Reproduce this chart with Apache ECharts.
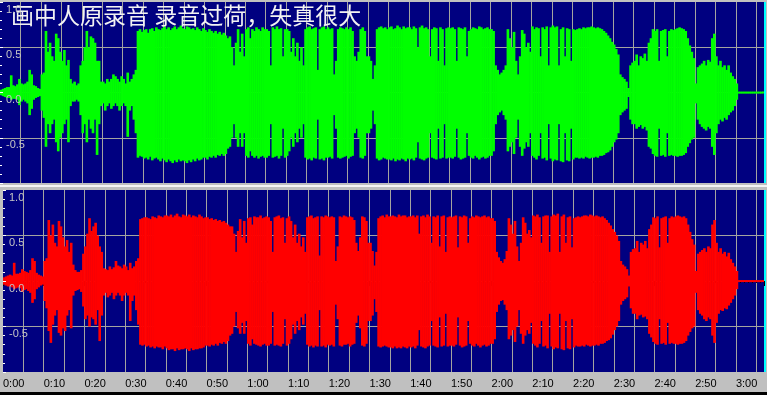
<!DOCTYPE html>
<html><head><meta charset="utf-8">
<script src="https://cdn.jsdelivr.net/npm/echarts@6/dist/echarts.min.js"></script>
<style>html,body{margin:0;padding:0;background:#c0c0c0;overflow:hidden}#c{width:767px;height:395px}</style>
</head><body><div id="c"></div>
<script>
const titleText = '画中人原录音 录音过荷，失真很大';
const binSeconds = 0.5;
const timeTickValues = [0,10,20,30,40,50,60,70,80,90,100,110,120,130,140,150,160,170,180];
const timeTickLabels = ['0:00','0:10','0:20','0:30','0:40','0:50','1:00','1:10','1:20','1:30','1:40','1:50','2:00','2:10','2:20','2:30','2:40','2:50','3:00'];
const ampTickValues = [1, 0.5, 0, -0.5];
const ampTickLabels = ['1.0','0.5','0.0','-0.5'];

// envelopes, one value per 0.5 s bin, one line per 5 s
const greenTop = [
.03,.04,.05,.06,.06,.19,.08,.07,.09,.15,
.1,.09,.1,.12,.25,.2,.08,.07,.05,.04,
.2,.22,.68,.45,.55,.4,.35,.65,.6,.45,
.35,.47,.3,.36,.15,.1,.12,.08,.1,.3,
.35,.5,.68,.5,.62,.6,.55,.35,.35,.12,
.12,.1,.15,.12,.15,.2,.18,.15,.12,.18,
.15,.1,.22,.12,.15,.2,.25,.68,.7,.67,
.69,.7,.66,.7,.71,.68,.72,.7,.69,.71,
.73,.7,.72,.69,.71,.73,.7,.72,.74,.71,
.7,.73,.72,.7,.71,.69,.72,.7,.68,.71,
.69,.67,.7,.68,.66,.68,.65,.67,.64,.66,
.63,.6,.62,.5,.3,.55,.7,.45,.65,.4,
.7,.72,.6,.7,.68,.72,.7,.68,.72,.7,
.7,.68,.3,.72,.7,.73,.7,.71,.4,.7,
.7,.68,.45,.6,.4,.55,.35,.5,.3,.7,
.72,.73,.7,.71,.72,.25,.7,.72,.73,.7,
.72,.7,.71,.2,.35,.7,.72,.71,.7,.72,
.7,.72,.68,.4,.35,.45,.7,.72,.68,.4,
.4,.35,.15,.3,.7,.72,.73,.71,.72,.7,
.72,.73,.7,.71,.74,.72,.7,.73,.71,.72,
.72,.7,.73,.71,.5,.72,.74,.71,.72,.7,
.4,.7,.72,.71,.35,.72,.7,.3,.71,.72,
.71,.72,.7,.35,.72,.71,.7,.72,.4,.68,
.7,.72,.71,.7,.73,.72,.7,.71,.72,.7,
.7,.68,.3,.25,.2,.22,.25,.3,.7,.6,
.5,.67,.35,.2,.4,.69,.65,.5,.55,.45,
.73,.7,.72,.71,.4,.72,.7,.73,.3,.72,
.74,.72,.73,.3,.7,.72,.4,.71,.7,.35,
.7,.69,.7,.71,.7,.72,.71,.72,.72,.73,
.72,.71,.72,.71,.7,.68,.66,.63,.6,.56,
.53,.48,.42,.2,.17,.15,.12,.05,.3,.33,
.35,.42,.3,.4,.38,.43,.35,.55,.6,.7,
.68,.7,.35,.68,.69,.7,.4,.68,.7,.69,
.7,.71,.72,.71,.7,.68,.6,.52,.45,.38,
.1,.28,.3,.32,.35,.3,.36,.34,.6,.65,
.4,.3,.35,.28,.3,.25,.3,.22,.18,.15,
.1,.01,.01,.01,.01,.01,.01,.01,.01,.01,
.01,.01,.01,.01
];
const greenBottom = [
-.03,-.04,-.05,-.06,-.06,-.08,-.07,-.07,-.08,-.14,
-.1,-.08,-.1,-.12,-.25,-.18,-.08,-.06,-.05,-.04,
-.2,-.28,-.6,-.35,-.45,-.35,-.3,-.55,-.65,-.5,
-.45,-.35,-.3,-.55,-.15,-.1,-.1,-.08,-.1,-.25,
-.45,-.35,-.55,-.3,-.4,-.45,-.3,-.69,-.35,-.15,
-.12,-.2,-.15,-.12,-.18,-.15,-.12,-.15,-.2,-.15,
-.12,-.15,-.49,-.2,-.15,-.3,-.45,-.72,-.7,-.71,
-.73,-.72,-.74,-.71,-.75,-.73,-.72,-.74,-.76,-.73,
-.75,-.77,-.74,-.76,-.78,-.75,-.77,-.74,-.76,-.75,
-.76,-.78,-.75,-.77,-.74,-.76,-.73,-.75,-.74,-.72,
-.72,-.74,-.71,-.72,-.7,-.72,-.69,-.7,-.68,-.7,
-.68,-.62,-.6,-.5,-.35,-.5,-.6,-.45,-.6,-.45,
-.7,-.72,-.65,-.7,-.72,-.7,-.73,-.71,-.7,-.72,
-.72,-.7,-.35,-.72,-.71,-.7,-.73,-.7,-.4,-.72,
-.7,-.65,-.5,-.6,-.45,-.55,-.4,-.5,-.35,-.72,
-.74,-.73,-.75,-.72,-.73,-.3,-.74,-.73,-.75,-.72,
-.72,-.71,-.73,-.25,-.4,-.72,-.73,-.72,-.71,-.7,
-.73,-.71,-.7,-.45,-.4,-.5,-.72,-.73,-.7,-.45,
-.45,-.4,-.2,-.35,-.73,-.75,-.74,-.72,-.73,-.74,
-.74,-.75,-.73,-.76,-.74,-.75,-.73,-.74,-.76,-.73,
-.74,-.73,-.75,-.72,-.55,-.73,-.74,-.75,-.73,-.72,
-.45,-.72,-.73,-.74,-.4,-.73,-.72,-.35,-.73,-.72,
-.72,-.73,-.71,-.4,-.72,-.74,-.73,-.72,-.45,-.7,
-.72,-.73,-.7,-.72,-.74,-.72,-.71,-.73,-.72,-.7,
-.7,-.65,-.35,-.25,-.22,-.2,-.25,-.3,-.65,-.6,
-.55,-.68,-.5,-.3,-.6,-.7,-.62,-.55,-.6,-.45,
-.7,-.72,-.74,-.7,-.45,-.73,-.72,-.75,-.35,-.73,
-.76,-.74,-.75,-.35,-.76,-.77,-.45,-.75,-.76,-.4,
-.74,-.72,-.72,-.73,-.72,-.73,-.71,-.72,-.73,-.72,
-.72,-.71,-.72,-.7,-.7,-.69,-.67,-.66,-.64,-.6,
-.55,-.52,-.45,-.25,-.22,-.2,-.18,-.05,-.3,-.35,
-.35,-.4,-.38,-.36,-.4,-.38,-.42,-.6,-.62,-.68,
-.7,-.71,-.4,-.7,-.69,-.71,-.45,-.7,-.69,-.7,
-.7,-.71,-.7,-.7,-.69,-.67,-.6,-.56,-.52,-.5,
-.12,-.3,-.35,-.38,-.4,-.42,-.38,-.4,-.6,-.69,
-.45,-.35,-.3,-.32,-.28,-.3,-.25,-.22,-.2,-.15,
-.08,-.01,-.01,-.01,-.01,-.01,-.01,-.01,-.01,-.01,
-.01,-.01,-.01,-.01
];
const redTop = [
.04,.05,.06,.07,.06,.2,.08,.08,.09,.13,
.11,.1,.09,.12,.25,.22,.09,.07,.06,.05,
.22,.25,.67,.5,.62,.42,.38,.66,.6,.48,
.38,.45,.32,.42,.18,.12,.1,.1,.12,.3,
.38,.52,.69,.55,.6,.64,.5,.38,.32,.14,
.13,.12,.16,.13,.15,.22,.17,.16,.14,.18,
.16,.12,.2,.14,.16,.22,.25,.68,.69,.7,
.7,.69,.68,.71,.7,.69,.72,.71,.7,.72,
.72,.71,.73,.7,.72,.74,.71,.7,.73,.72,
.71,.73,.7,.72,.71,.7,.73,.71,.69,.7,
.7,.68,.69,.67,.68,.66,.67,.65,.66,.64,
.62,.6,.6,.52,.32,.55,.68,.48,.66,.42,
.69,.7,.62,.71,.7,.7,.72,.69,.7,.71,
.7,.66,.32,.7,.71,.72,.69,.7,.42,.69,
.71,.66,.48,.62,.42,.52,.38,.48,.32,.7,
.71,.72,.69,.7,.71,.28,.71,.7,.72,.71,
.7,.71,.7,.22,.38,.71,.7,.72,.71,.7,
.71,.7,.67,.42,.33,.48,.71,.7,.66,.42,
.42,.33,.17,.32,.69,.71,.72,.7,.73,.71,
.71,.72,.71,.7,.73,.71,.72,.72,.7,.71,
.71,.72,.7,.72,.52,.71,.72,.7,.73,.71,
.42,.71,.7,.72,.38,.71,.72,.32,.7,.71,
.7,.71,.72,.37,.71,.7,.72,.71,.42,.69,
.71,.7,.72,.71,.7,.71,.72,.7,.71,.69,
.69,.66,.32,.26,.22,.2,.24,.33,.69,.62,
.52,.66,.38,.22,.42,.7,.64,.52,.56,.48,
.72,.71,.73,.7,.42,.71,.72,.72,.32,.71,
.73,.72,.74,.32,.71,.73,.42,.7,.71,.37,
.69,.7,.71,.7,.71,.72,.72,.71,.73,.72,
.71,.72,.71,.7,.71,.69,.67,.64,.61,.57,
.54,.5,.44,.22,.18,.16,.13,.06,.32,.35,
.36,.44,.32,.42,.4,.44,.36,.57,.62,.7,
.69,.71,.37,.69,.7,.71,.42,.69,.71,.7,
.71,.72,.71,.7,.71,.69,.62,.54,.46,.4,
.11,.3,.32,.34,.36,.32,.38,.36,.62,.67,
.42,.32,.36,.3,.32,.27,.31,.24,.2,.16,
.11,.01,.01,.01,.01,.01,.01,.01,.01,.01,
.01,.01,.01,.01
];
const redBottom = [
-.04,-.05,-.06,-.06,-.07,-.09,-.08,-.07,-.08,-.12,
-.1,-.09,-.11,-.13,-.24,-.2,-.09,-.07,-.05,-.04,
-.22,-.3,-.55,-.68,-.48,-.38,-.32,-.57,-.6,-.52,
-.55,-.38,-.32,-.52,-.16,-.11,-.1,-.09,-.12,-.28,
-.42,-.38,-.5,-.4,-.42,-.48,-.32,-.66,-.38,-.16,
-.13,-.18,-.16,-.13,-.2,-.16,-.13,-.16,-.22,-.16,
-.13,-.16,-.44,-.22,-.16,-.32,-.48,-.7,-.71,-.7,
-.72,-.71,-.73,-.72,-.74,-.72,-.73,-.73,-.75,-.72,
-.74,-.76,-.75,-.75,-.77,-.74,-.76,-.75,-.75,-.74,
-.75,-.77,-.74,-.76,-.75,-.75,-.74,-.74,-.73,-.71,
-.71,-.72,-.7,-.71,-.69,-.71,-.68,-.69,-.67,-.69,
-.66,-.6,-.58,-.5,-.34,-.52,-.58,-.46,-.58,-.44,
-.69,-.71,-.64,-.69,-.7,-.71,-.72,-.7,-.69,-.71,
-.71,-.69,-.34,-.71,-.7,-.71,-.72,-.69,-.42,-.71,
-.69,-.64,-.48,-.58,-.44,-.54,-.4,-.48,-.36,-.7,
-.72,-.71,-.73,-.71,-.72,-.32,-.72,-.71,-.73,-.7,
-.71,-.7,-.72,-.26,-.42,-.71,-.72,-.7,-.7,-.69,
-.72,-.7,-.69,-.46,-.38,-.52,-.71,-.72,-.69,-.44,
-.44,-.38,-.2,-.34,-.72,-.73,-.72,-.71,-.72,-.73,
-.73,-.74,-.72,-.74,-.73,-.74,-.72,-.73,-.74,-.72,
-.73,-.72,-.74,-.71,-.54,-.72,-.73,-.74,-.72,-.71,
-.44,-.71,-.72,-.73,-.4,-.72,-.71,-.36,-.72,-.71,
-.71,-.72,-.7,-.4,-.71,-.73,-.72,-.71,-.44,-.69,
-.71,-.72,-.69,-.71,-.73,-.71,-.7,-.72,-.71,-.69,
-.69,-.64,-.34,-.26,-.22,-.21,-.26,-.32,-.64,-.6,
-.54,-.67,-.5,-.32,-.58,-.69,-.6,-.54,-.58,-.46,
-.69,-.71,-.73,-.69,-.44,-.72,-.71,-.74,-.36,-.72,
-.75,-.73,-.74,-.36,-.75,-.76,-.44,-.74,-.75,-.42,
-.73,-.71,-.72,-.72,-.71,-.72,-.7,-.71,-.72,-.71,
-.71,-.7,-.71,-.69,-.69,-.68,-.66,-.65,-.63,-.59,
-.54,-.5,-.44,-.26,-.22,-.2,-.18,-.06,-.3,-.36,
-.36,-.42,-.38,-.37,-.4,-.39,-.42,-.58,-.62,-.67,
-.69,-.7,-.42,-.69,-.68,-.7,-.46,-.69,-.68,-.69,
-.69,-.7,-.69,-.69,-.68,-.66,-.6,-.56,-.52,-.5,
-.13,-.32,-.36,-.38,-.42,-.44,-.4,-.42,-.6,-.68,
-.46,-.36,-.32,-.33,-.3,-.31,-.27,-.24,-.2,-.16,
-.09,-.01,-.01,-.01,-.01,-.01,-.01,-.01,-.01,-.01,
-.01,-.01,-.01,-.01
];

const X_MAX = 186.9;
const GRID_COLOR = '#a4a4a0';
const chart = echarts.init(document.getElementById('c'), null, {renderer: 'canvas'});

function binData(top, bottom) {
  return top.map((u, i) => [i * binSeconds, u, bottom[i]]);
}
function makeRender(color) {
  return function (params, api) {
    const t = api.value(0);
    const a = api.coord([t, api.value(1)]);
    const b = api.coord([t + binSeconds, api.value(2)]);
    const h = Math.max(b[1] - a[1], 2);
    return {type: 'rect', shape: {x: a[0] - 0.3, y: a[1], width: (b[0] - a[0]) + 0.6, height: h}, style: {fill: color}};
  };
}
function ampFmt(v) {
  const i = ampTickValues.findIndex(a => Math.abs(a - v) < 1e-9);
  return i < 0 ? '' : ampTickLabels[i];
}
function timeFmt(v) {
  const i = timeTickValues.findIndex(a => Math.abs(a - v) < 1e-6);
  return i < 0 ? '' : timeTickLabels[i];
}
function gridXAxis(g) {
  return {gridIndex: g, type: 'value', min: 0, max: X_MAX, interval: 5,
    axisLine: {show: false}, axisTick: {show: false}, axisLabel: {show: false},
    splitLine: {show: true, showMinLine: false, showMaxLine: false, lineStyle: {color: GRID_COLOR, width: 1}}};
}
function gridYAxis(g) {
  return {gridIndex: g, type: 'value', position: 'left', min: -1, max: 1, interval: 0.5,
    axisLine: {show: false}, axisTick: {show: false}, axisLabel: {show: false},
    splitLine: {show: true, showMinLine: false, showMaxLine: false, lineStyle: {color: GRID_COLOR, width: 1}}};
}
function labelYAxis(g) {
  return {gridIndex: g, type: 'value', position: 'left', offset: 0, min: -1, max: 1, interval: 0.5, z: 10,
    axisLine: {show: false},
    axisTick: {show: true, inside: true, length: 3, lineStyle: {color: '#ffffff'}},
    minorTick: {show: true, splitNumber: 5, length: 2, lineStyle: {color: '#ffffff'}},
    splitLine: {show: false},
    axisLabel: {inside: true, formatter: ampFmt, color: '#c4c4c4', fontSize: 11, fontFamily: 'Liberation Sans',
      verticalAlign: 'top', margin: 6, padding: [2, 0, 0, 0], showMinLabel: true, showMaxLabel: true}};
}

chart.setOption({
  animation: false,
  backgroundColor: '#c0c0c0',
  title: {text: titleText, left: 11, top: 4, padding: 0,
    textStyle: {color: '#f2f2f2', fontSize: 23, fontWeight: 'normal', fontFamily: 'Noto Sans CJK SC'}},
  grid: [
    {left: 0, top: 2, width: 764, height: 181, show: true, backgroundColor: '#000080', borderWidth: 0},
    {left: 0, top: 190, width: 764, height: 182, show: true, backgroundColor: '#000080', borderWidth: 0}
  ],
  xAxis: [
    gridXAxis(0),
    gridXAxis(1),
    {gridIndex: 1, type: 'value', min: 0, max: X_MAX, interval: 10, position: 'bottom',
      axisLine: {show: false},
      axisTick: {show: true, length: 5, lineStyle: {color: '#000000'}},
      minorTick: {show: true, splitNumber: 10, length: 2, lineStyle: {color: '#000000'}},
      splitLine: {show: false},
      axisLabel: {formatter: timeFmt, align: 'left', margin: 6, color: '#000000', fontSize: 11,
        fontFamily: 'Liberation Sans', showMinLabel: true, showMaxLabel: true, hideOverlap: false}}
  ],
  yAxis: [gridYAxis(0), gridYAxis(1), labelYAxis(0), labelYAxis(1)],
  series: [
    {type: 'custom', name: 'L', xAxisIndex: 0, yAxisIndex: 0, clip: true, z: 2,
      renderItem: makeRender('#00ff00'), encode: {x: 0, y: [1, 2]}, data: binData(greenTop, greenBottom)},
    {type: 'custom', name: 'R', xAxisIndex: 1, yAxisIndex: 1, clip: true, z: 2,
      renderItem: makeRender('#ff0000'), encode: {x: 0, y: [1, 2]}, data: binData(redTop, redBottom)}
  ],
  graphic: [
    {type: 'rect', shape: {x: 764, y: 2, width: 2, height: 181}, style: {fill: '#00ffff'}, silent: true},
    {type: 'rect', shape: {x: 764, y: 190, width: 2, height: 182}, style: {fill: '#00ffff'}, silent: true},
    {type: 'rect', shape: {x: 0, y: 185, width: 767, height: 2}, style: {fill: '#f4f4f4'}, silent: true},
    {type: 'rect', shape: {x: 0, y: 392, width: 767, height: 3}, style: {fill: '#000000'}, silent: true}
  ]
});
</script>
</body></html>
